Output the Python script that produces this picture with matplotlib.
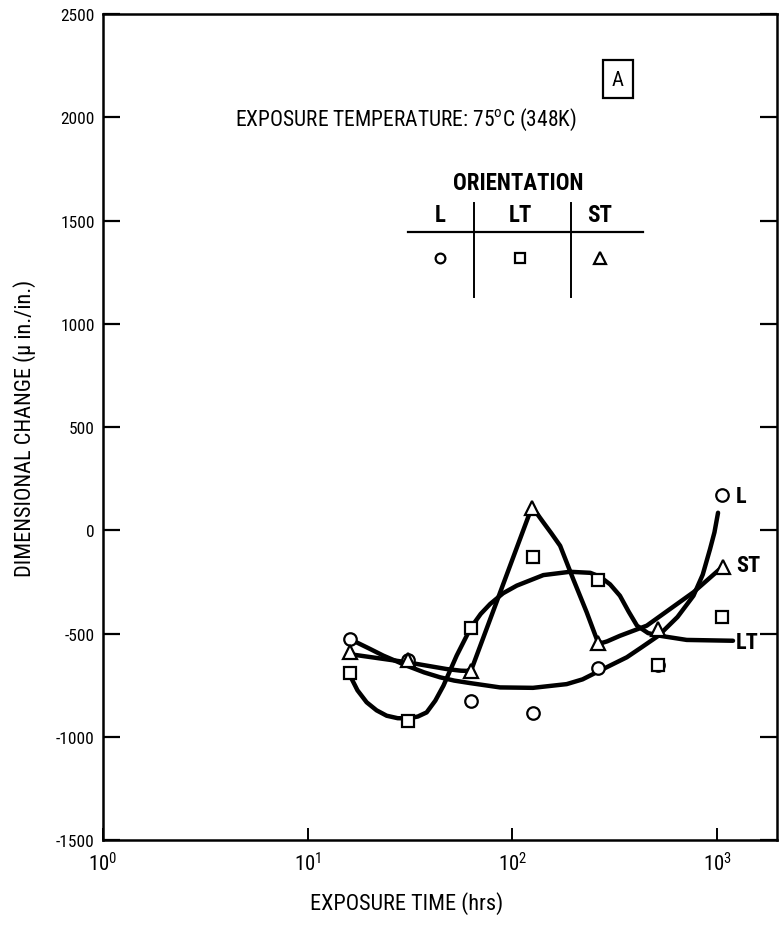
import numpy as np
import matplotlib.pyplot as plt

plt.rcParams['font.family'] = ['Roboto Condensed', 'DejaVu Sans']
plt.rcParams['axes.unicode_minus'] = False
plt.rcParams['mathtext.default'] = 'regular'

# measured points, orientation L / LT / ST
hrs = [16, 31, 63, 126, 263, 516, 1052]
L_pts = [-527, -627, -825, -885, -669, -650, 171]
LT_pts = [-693, -922, -473, -131, -239, -652, -422]
ST_hrs = [16, 31, 63, 124, 261, 516, 1070]
ST_pts = [-591, -630, -683, 108, -546, -478, -176]

# hand drawn curves
L_cx = [16.7, 20, 23.4, 30.5, 37, 44.3, 52, 62.1, 87, 126, 184, 220, 255, 300, 362, 430,
        516, 640, 766, 850, 923, 970, 1010]
L_cy = [-535, -573, -607, -656, -688, -712, -728, -740, -761, -763, -745, -722, -690, -655,
        -615, -565, -511, -420, -317, -215, -91, -10, 85]
LT_cx = [16.1, 17.5, 19.4, 21.7, 24.3, 27.5, 31, 34.5, 38.1, 42, 46, 53.4, 62.5, 70, 77.8,
         90, 105, 141.6, 191, 240, 268, 300, 335, 370, 406, 460, 526, 710, 1195]
LT_cy = [-704, -775, -833, -872, -898, -910, -911, -902, -882, -825, -753, -607, -473, -405,
         -357, -305, -268, -217, -201, -206, -225, -262, -317, -395, -462, -498, -511, -531, -535]
ST_cx = [15.8, 30.5, 47.7, 56, 60, 63.3, 124, 132, 141.6, 155, 171, 198, 230.5, 261, 275, 290,
         335, 453, 766, 1052]
ST_cy = [-599, -639, -672, -680, -681, -670, 108, 80, 38, -15, -75, -236, -397, -540, -545,
         -538, -511, -462, -300, -180]

yticks = [-1500, -1000, -500, 0, 500, 1000, 1500, 2000, 2500]
xticks = [1, 10, 100, 1000]

fig = plt.figure(figsize=(7.82, 9.29), dpi=100)
ax = fig.add_axes([0.1317, 0.0947, 0.8619, 0.8891])
ax.set_xscale('log')
ax.set_xlim(1, 1960)
ax.set_ylim(-1500, 2500)

# curves first, markers on top
for cx, cy in [(L_cx, L_cy), (LT_cx, LT_cy), (ST_cx, ST_cy)]:
    ax.plot(cx, cy, color='black', lw=3.2, solid_capstyle='round',
            solid_joinstyle='round', zorder=2)

mk = dict(ls='none', mfc='white', mec='black', mew=1.6, zorder=3)
ax.plot(hrs, L_pts, marker='o', ms=9, **mk)
ax.plot(hrs, LT_pts, marker='s', ms=8.5, **mk)
ax.plot(ST_hrs, ST_pts, marker='^', ms=10, **mk)

ax.text(1237, 166, 'L', fontsize=16, fontweight='bold', va='center', ha='left')
ax.text(1237, -168, 'ST', fontsize=16, fontweight='bold', va='center', ha='left')
ax.text(1237, -541, 'LT', fontsize=16, fontweight='bold', va='center', ha='left')

# annotation block
ax.text(4.41, 1992, 'EXPOSURE TEMPERATURE: 75$^o$C (348K)', fontsize=15.5,
        va='center', ha='left')
ax.text(328, 2185, 'A', fontsize=15, ha='center', va='center',
        bbox=dict(boxstyle='square,pad=0.45', fc='white', ec='black', lw=1.6))
ax.text(106.5, 1686, 'ORIENTATION', fontsize=16.5, fontweight='bold',
        ha='center', va='center')
for x, s in zip([44.3, 109, 268], ['L', 'LT', 'ST']):
    ax.text(x, 1531, s, fontsize=16.5, fontweight='bold', ha='center', va='center')
ax.plot([30.8, 434], [1444, 1444], color='black', lw=1.6)
ax.plot([64.9, 64.9], [1585, 1130], color='black', lw=1.4)
ax.plot([193, 193], [1585, 1130], color='black', lw=1.4)
ax.plot([44.3], [1318], marker='o', ms=7, **mk)
ax.plot([109], [1318], marker='s', ms=7, **mk)
ax.plot([268], [1318], marker='^', ms=8, **mk)

ax.set_yticks(yticks)
ax.set_yticklabels([str(v) for v in yticks])
ax.set_xticks(xticks)
ax.set_xticklabels([r'$\mathregular{10^{%d}}$' % i for i in range(4)])
ax.minorticks_off()
ax.tick_params(axis='y', direction='in', length=12, width=1.6, right=True,
               labelsize=12.5, pad=6)
ax.tick_params(axis='x', direction='in', length=9, width=1.4,
               labelsize=15, pad=8)
for sp in ax.spines.values():
    sp.set_linewidth(1.8)

ax.set_xlabel('EXPOSURE TIME (hrs)', fontsize=16, labelpad=10)
ax.xaxis.set_label_coords(0.451, -0.062)
ax.set_ylabel('DIMENSIONAL CHANGE (\u03bc in./in.)', fontsize=16, labelpad=14)

fig.savefig('out.png', dpi=100)
